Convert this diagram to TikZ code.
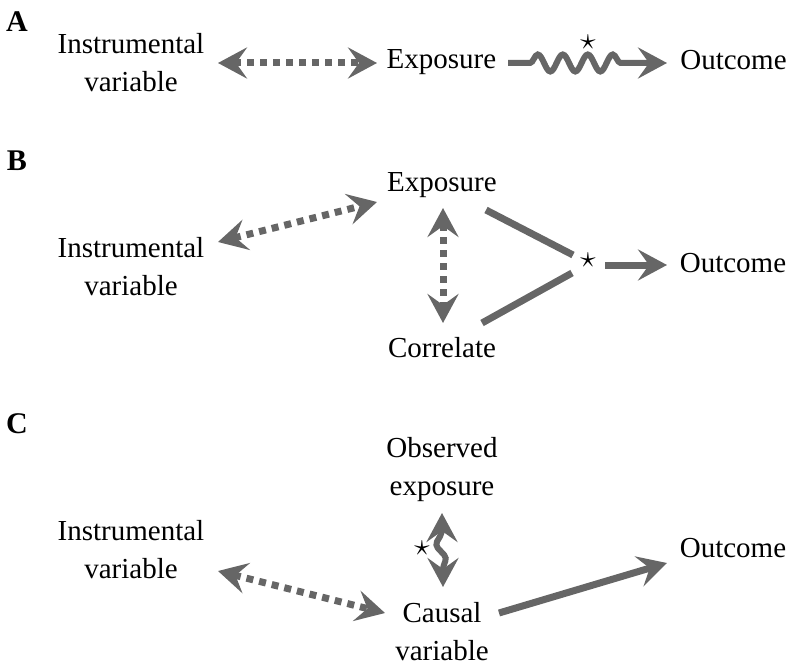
\documentclass[tikz,border=0pt]{standalone}
\usepackage{fontspec}
\setmainfont{Liberation Serif}
\usetikzlibrary{arrows.meta,decorations.pathmorphing}
\definecolor{arrowgray}{RGB}{102,102,102}
\begin{document}
\begin{tikzpicture}[x=1pt,y=-1pt,
  lbl/.style={font=\fontsize{29}{38}\selectfont, inner sep=0pt, anchor=base, align=center},
  panel/.style={font=\fontsize{30}{38}\selectfont\bfseries, inner sep=0pt, anchor=base},
  starnode/.style={font=\huge, inner sep=0pt, scale=1.5},
  conn/.style={draw=arrowgray, line width=7pt},
  dashconn/.style={conn, dash pattern=on 7pt off 6pt},
  wavy/.style={conn, line width=6pt, decorate,
    decoration={snake, segment length=25pt, amplitude=8.5pt, pre length=22pt, post length=37pt}},
  headtip/.tip={Stealth[length=29pt,width=31pt,inset=11pt]}
]
\useasboundingbox (0,0) rectangle (794,666);

% Panel A
\node[panel] (pA) at (17,32) {A};
\node[lbl] (ivA) at (131,92) {Instrumental\\variable};
\node[lbl] (expA) at (441.5,69) {Exposure};
\node[lbl] (outA) at (733.5,70) {Outcome};
\node[starnode] (starA) at (588,42) {$\star$};
\draw[dashconn, headtip-headtip] ([shift={(87,-29)}]ivA.base) -- ([shift={(-64.5,-6)}]expA.base);
\draw[wavy, -headtip] ([shift={(66.5,-6)}]expA.base) -- ([shift={(-66.5,-7)}]outA.base);

% Panel B
\node[panel] (pB) at (17,170) {B};
\node[lbl] (ivB) at (131,295) {Instrumental\\variable};
\node[lbl] (expB) at (442,191) {Exposure};
\node[lbl] (corr) at (442,357) {Correlate};
\node[lbl] (outB) at (733,272) {Outcome};
\node[starnode] (starB) at (588,260) {$\star$};
\draw[dashconn, headtip-headtip] ([shift={(87,-53)}]ivB.base) -- ([shift={(-65,11)}]expB.base);
\draw[dashconn, headtip-headtip] ([shift={(1,17)}]expB.base) -- ([shift={(1,-34)}]corr.base);
\draw[conn] ([shift={(44,19)}]expB.base) -- ([shift={(-15,-5)}]starB.center);
\draw[conn] ([shift={(40,-34)}]corr.base) -- ([shift={(-16,13)}]starB.center);
\draw[conn, -headtip] ([shift={(17,5)}]starB.center) -- ([shift={(-66,-7)}]outB.base);

% Panel C
\node[panel] (pC) at (17,433) {C};
\node[lbl] (ivC) at (131,578) {Instrumental\\variable};
\node[lbl] (obs) at (442,495) {Observed\\exposure};
\node[lbl] (causal) at (442,660) {Causal\\variable};
\node[lbl] (outC) at (733,557) {Outcome};
\node[starnode] (starC) at (422,548) {$\star$};
\draw[dashconn, headtip-headtip] ([shift={(87,-7)}]ivC.base) -- ([shift={(-57,-47)}]causal.base);
\draw[conn, line width=6pt, rounded corners=4pt, headtip-headtip] ([shift={(0,18)}]obs.base) -- (442,533) -- (435,545) -- (447,558) -- (443,566) -- ([shift={(1,-73)}]causal.base);
\draw[conn, -headtip] ([shift={(57,-47)}]causal.base) -- ([shift={(-66,6)}]outC.base);
\end{tikzpicture}
\end{document}
